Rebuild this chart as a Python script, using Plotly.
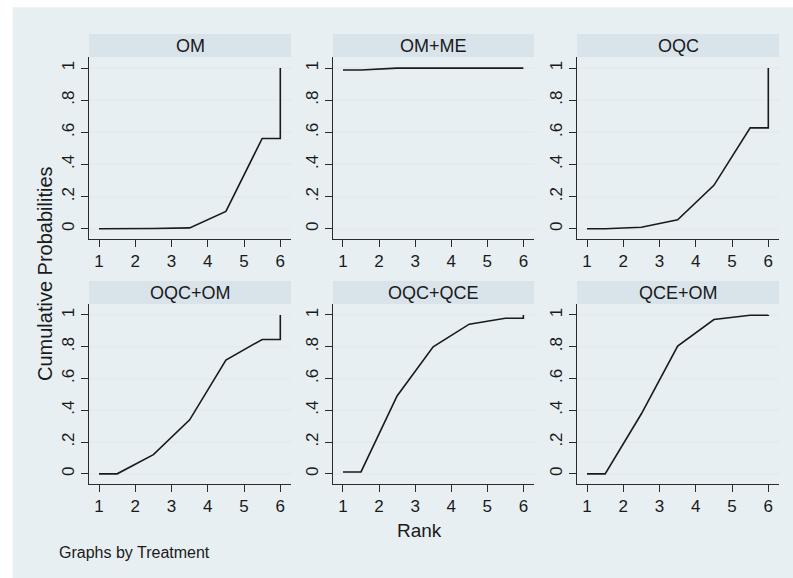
import plotly.graph_objects as go

# Cumulative rank probabilities per treatment (ranks 1..6)
treatments = ["OM", "OM+ME", "OQC", "OQC+OM", "OQC+QCE", "QCE+OM"]
cum_om = [0.0, 0.001, 0.005, 0.108, 0.562, 1.0]
cum_om_me = [0.988, 1.0, 1.0, 1.0, 1.0, 1.0]
cum_oqc = [0.0, 0.009, 0.055, 0.27, 0.628, 1.0]
cum_oqc_om = [0.0, 0.121, 0.34, 0.716, 0.846, 1.0]
cum_oqc_qce = [0.012, 0.49, 0.80, 0.942, 0.979, 1.0]
cum_qce_om = [0.0, 0.378, 0.804, 0.971, 0.998, 1.0]
series = [cum_om, cum_om_me, cum_oqc, cum_oqc_om, cum_oqc_qce, cum_qce_om]

x_ticks = [1, 2, 3, 4, 5, 6]
y_ticks = [0, 0.2, 0.4, 0.6, 0.8, 1]
y_ticklabels = ["0", ".2", ".4", ".6", ".8", "1"]

W, H = 793, 578
BG = "#e8eff2"
STRIP = "#d8e3ea"
GRID = "#e3ebef"
AX = "#2b2b2b"
FONT = "Liberation Sans, Arial, sans-serif"

# panel pixel boxes (left, right) and (top, bottom)
cols_px = [(89, 291), (333, 534), (577, 779)]
rows_px = [(57, 239), (304, 484)]
strip_h = 23


def px_x(v):
    return v / W


def px_y(v):
    return 1 - v / H


fig = go.Figure()
shapes = [dict(type="rect", xref="paper", yref="paper", x0=px_x(12.7), x1=1.0,
               y0=0.0, y1=px_y(7.3), fillcolor=BG, line=dict(width=0), layer="below")]
annotations = []

for i, (name, cum) in enumerate(zip(treatments, series)):
    r, c = divmod(i, 3)
    idx = "" if i == 0 else str(i + 1)
    (l, rr), (t, b) = cols_px[c], rows_px[r]

    # step-style profile: flat over first half-rank, midpoints, jump to 1 at rank 6
    xs = [1, 1.5, 2.5, 3.5, 4.5, 5.5, 6, 6]
    ys = [cum[0], cum[0], cum[1], cum[2], cum[3], cum[4], cum[4], cum[5]]
    fig.add_trace(go.Scatter(x=xs, y=ys, mode="lines",
                             line=dict(color="#1a1a1a", width=1.6),
                             xaxis="x" + idx, yaxis="y" + idx,
                             showlegend=False, hoverinfo="skip"))

    common = dict(showline=True, linecolor=AX, linewidth=1, ticks="outside",
                  ticklen=7, tickcolor=AX, tickwidth=1, zeroline=False,
                  tickfont=dict(family=FONT, size=17, color="#1a1a1a"),
                  mirror=False, fixedrange=True)
    fig.layout["xaxis" + idx] = dict(
        domain=[px_x(l), px_x(rr)], range=[0.724, 6.295], anchor="y" + idx,
        tickvals=x_ticks, ticktext=[str(v) for v in x_ticks], showgrid=False,
        **common)
    fig.layout["yaxis" + idx] = dict(
        domain=[px_y(b), px_y(t)], range=[-0.064, 1.069], anchor="x" + idx,
        tickvals=y_ticks, ticktext=y_ticklabels, tickangle=-90,
        showgrid=True, gridcolor=GRID, gridwidth=1.5, **common)

    # panel header strip
    shapes.append(dict(type="rect", xref="paper", yref="paper",
                       x0=px_x(l), x1=px_x(rr), y0=px_y(t), y1=px_y(t - strip_h),
                       fillcolor=STRIP, line=dict(width=0), layer="below"))
    annotations.append(dict(text=name, xref="paper", yref="paper",
                            x=px_x((l + rr) / 2), y=px_y(t - strip_h / 2),
                            xanchor="center", yanchor="middle", showarrow=False,
                            font=dict(family=FONT, size=18, color="#1a1a1a")))

annotations += [
    dict(text="Rank", xref="paper", yref="paper", x=px_x(419), y=px_y(530),
         xanchor="center", yanchor="middle", showarrow=False,
         font=dict(family=FONT, size=19, color="#1a1a1a")),
    dict(text="Cumulative Probabilities", xref="paper", yref="paper",
         x=px_x(45), y=px_y(274), textangle=-90, xanchor="center",
         yanchor="middle", showarrow=False,
         font=dict(family=FONT, size=20, color="#1a1a1a")),
    dict(text="Graphs by Treatment", xref="paper", yref="paper",
         x=px_x(56.5), y=px_y(552), xanchor="left", yanchor="middle",
         showarrow=False, font=dict(family=FONT, size=16, color="#1a1a1a")),
]

fig.update_layout(width=W, height=H, margin=dict(l=0, r=0, t=0, b=0),
                  paper_bgcolor="white", plot_bgcolor="white",
                  shapes=shapes, annotations=annotations)

fig.write_html("out.html")
